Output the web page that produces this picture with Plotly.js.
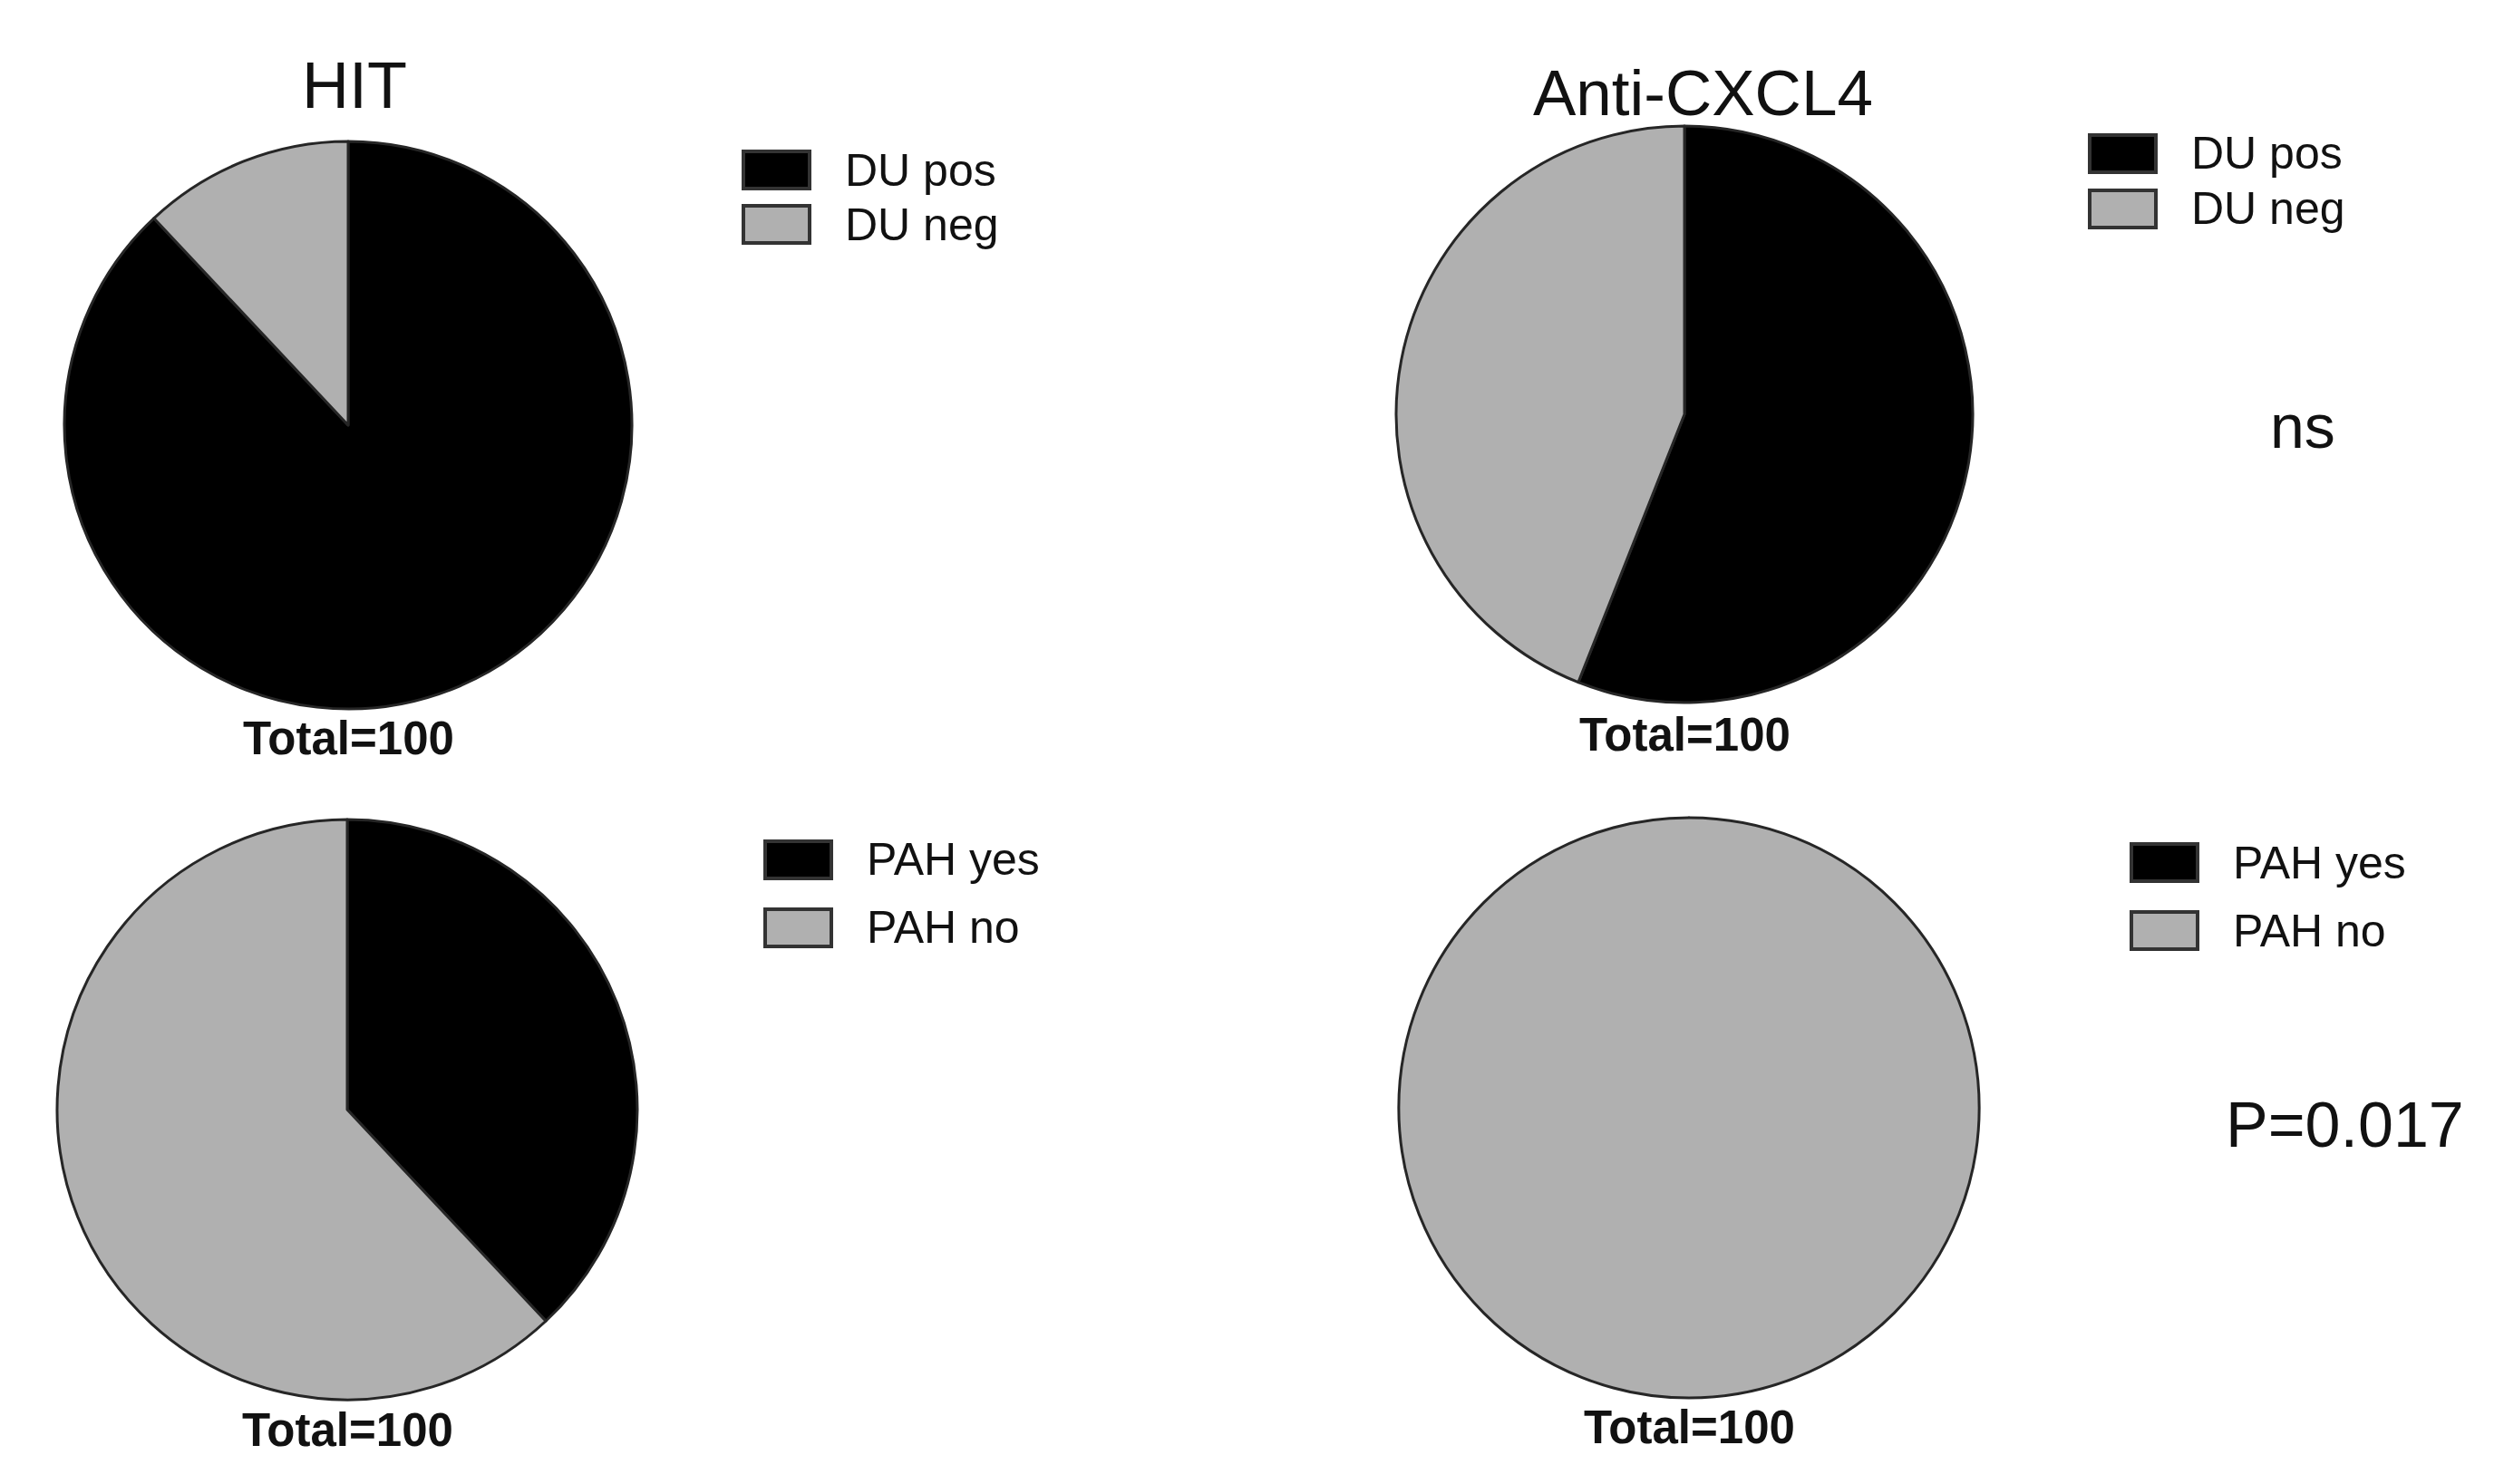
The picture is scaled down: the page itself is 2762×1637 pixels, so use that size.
<!DOCTYPE html>
<html>
<head>
<meta charset="utf-8">
<script src="https://cdn.plot.ly/plotly-3.0.1.min.js"></script>
<style>
  html, body { margin: 0; padding: 0; background: #fff; }
  #chart { width: 2762px; height: 1637px; }
</style>
</head>
<body>
<div id="chart"></div>
<script>
// ── Données ─────────────────────────────────────────
const GROUPS     = ['HIT', 'Anti-CXCL4'];
const DU_LABELS  = ['DU pos', 'DU neg'];
const PAH_LABELS = ['PAH yes', 'PAH no'];
const HIT_DU     = [88, 12];
const CXCL4_DU   = [56, 44];
const HIT_PAH    = [38, 62];
const CXCL4_PAH  = [0, 100];
const TOTALS     = [100, 100, 100, 100];
const P_TEXTS    = ['ns', 'P=0.017'];
const COLORS     = ['#000000', '#b0b0b0'];

// ── Mise en page (pixels) ───────────────────────────
const W = 2762, H = 1637;
const FONT = 'Liberation Sans, Arial, sans-serif';

const px = x => x / W;
const py = y => 1 - y / H;

// centre + rayon de chaque camembert
const PIES = [
  { cx: 384,  cy: 469,  r: 313, values: HIT_DU,    labels: DU_LABELS,  total: TOTALS[0], totY: 814 },
  { cx: 1858, cy: 457,  r: 318, values: CXCL4_DU,  labels: DU_LABELS,  total: TOTALS[1], totY: 810 },
  { cx: 383,  cy: 1224, r: 320, values: HIT_PAH,   labels: PAH_LABELS, total: TOTALS[2], totY: 1577 },
  { cx: 1863, cy: 1222, r: 320, values: CXCL4_PAH, labels: PAH_LABELS, total: TOTALS[3], totY: 1574 },
];

// légendes dessinées à la main (carrés larges comme l'original)
const LEGENDS = [
  { x: 820,  y: 167, dy: 60, labels: DU_LABELS },
  { x: 2305, y: 149, dy: 61, labels: DU_LABELS },
  { x: 844,  y: 928, dy: 75, labels: PAH_LABELS },
  { x: 2351, y: 931, dy: 75, labels: PAH_LABELS },
];
const SW_W = 73, SW_H = 41, TXT_GAP = 37;

const traces = PIES.map(p => ({
  type: 'pie',
  values: p.values,
  labels: p.labels,
  sort: false,
  direction: 'clockwise',
  rotation: 0,
  textinfo: 'none',
  hoverinfo: 'label+value',
  showlegend: false,
  marker: { colors: COLORS, line: { color: '#262626', width: 3 } },
  domain: {
    x: [px(p.cx - p.r), px(p.cx + p.r)],
    y: [py(p.cy + p.r), py(p.cy - p.r)],
  },
}));

const annotations = [];
const shapes = [];

function addText(text, x, y, size, opts = {}) {
  annotations.push({
    text, x: px(x), y: py(y), xref: 'paper', yref: 'paper',
    xanchor: opts.xanchor || 'center', yanchor: 'middle',
    showarrow: false,
    font: { family: FONT, size, color: '#111' },
  });
}

// titres
addText(GROUPS[0], 391, 94, 72);
addText(GROUPS[1], 1878, 103, 71);

// totaux sous chaque camembert
PIES.forEach(p => addText(`<b>Total=${p.total}</b>`, p.cx, p.totY, 51));

// p-valeurs
addText(P_TEXTS[0], 2540, 470, 68);
addText(P_TEXTS[1], 2586, 1241, 70);

// légendes
LEGENDS.forEach(l => {
  l.labels.forEach((lab, i) => {
    const y0 = l.y + i * l.dy;
    shapes.push({
      type: 'rect', xref: 'paper', yref: 'paper',
      x0: px(l.x), x1: px(l.x + SW_W), y0: py(y0 + SW_H), y1: py(y0),
      fillcolor: COLORS[i], line: { color: '#333', width: 4 },
    });
    addText(lab, l.x + SW_W + TXT_GAP, y0 + SW_H / 2, 50, { xanchor: 'left' });
  });
});

Plotly.newPlot('chart', traces, {
  width: W, height: H,
  margin: { t: 0, b: 0, l: 0, r: 0 },
  paper_bgcolor: '#fff', plot_bgcolor: '#fff',
  font: { family: FONT, color: '#111' },
  annotations, shapes,
}, { displayModeBar: false, responsive: false });
</script>
</body>
</html>
